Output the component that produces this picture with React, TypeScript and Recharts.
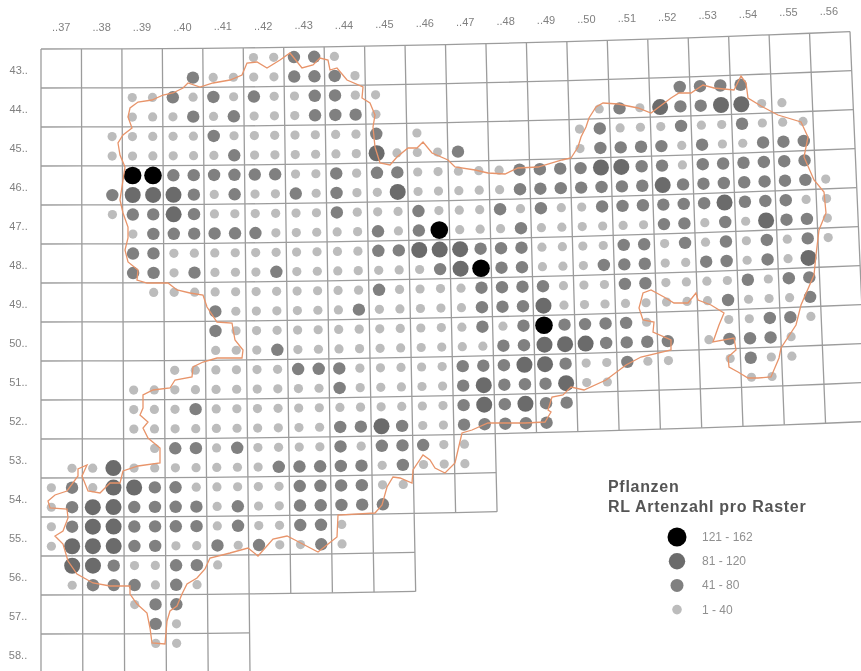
import React from 'react';
import { ScatterChart, Scatter, XAxis, YAxis, Legend } from 'recharts';

const columns = [37, 38, 39, 40, 41, 42, 43, 44, 45, 46, 47, 48, 49, 50, 51, 52, 53, 54, 55, 56];
const gridRows = [43, 44, 45, 46, 47, 48, 49, 50, 51, 52, 53, 54, 55, 56, 57, 58];

// legend classes, index 0 is class 1 in the dot rows below
const classLabels = ['1 - 40', '41 - 80', '81 - 120', '121 - 162'];
const classColors = ['#bcbcbc', '#808080', '#6b6b6b', '#000000'];
const classRadius = [4.6, 6.2, 8, 8.8];

// class of every raster quarter, two half rows per map row, one pair per map column 37..56
const dotRows = [
  '00 00 00 00 00 11 22 10',
  '00 00 00 02 11 11 22 21',
  '00 00 11 21 21 21 12 21 10 00 00 00 00 00 00 02 22 20',
  '00 00 11 12 12 11 12 22 10 00 00 00 00 01 21 32 23 31 10',
  '00 01 11 11 21 11 11 11 20 10 00 00 00 12 11 12 11 21 11',
  '00 01 11 11 12 11 11 11 31 11 20 00 00 12 22 21 21 12 22',
  '00 00 44 22 22 22 11 21 22 11 11 12 22 23 32 21 22 22 22',
  '00 02 33 32 12 11 21 21 13 11 11 12 22 22 22 32 22 22 22 10',
  '00 01 22 32 11 11 11 21 11 21 11 21 21 12 22 22 23 22 21 10',
  '00 00 12 22 22 21 11 11 21 24 11 12 11 11 11 22 12 13 22 10',
  '00 00 22 11 11 11 11 11 22 33 32 22 11 11 22 12 12 12 12 10',
  '00 00 22 12 11 12 11 11 11 12 34 22 11 12 22 11 22 12 13',
  '00 00 01 11 11 11 11 11 21 11 12 22 21 11 22 11 11 21 22',
  '00 00 00 00 21 11 11 12 11 11 12 22 31 11 11 11 12 11 12',
  '00 00 00 00 21 11 11 11 11 11 12 12 42 22 21 00 01 12 21',
  '00 00 00 00 11 12 11 11 11 11 11 22 33 32 22 20 12 22 10',
  '00 00 00 11 11 11 22 21 11 11 22 23 32 11 21 10 01 21 10',
  '00 00 11 11 11 11 11 21 11 11 23 22 23 11 00 00 00 11',
  '00 00 11 12 11 11 11 11 11 11 23 23 22',
  '00 00 11 11 11 11 11 22 32 11 22 22 20',
  '00 00 01 22 12 11 11 21 22 21 10',
  '01 13 11 11 11 12 22 22 12 11 10',
  '12 13 32 21 11 11 22 22 11',
  '12 33 22 22 12 11 22 22 20',
  '12 33 22 22 12 11 22 10',
  '13 33 22 11 21 21 12 10',
  '03 32 11 22 10',
  '01 22 21 21',
  '00 00 12 20',
  '00 00 02 10',
  '00 00 01 10',
];

// how far each map column reaches down, in map rows
const columnDepth = [16, 16, 16, 16, 16, 16, 14, 14, 14, 14, 12, 12, 10, 10, 10, 10, 10, 10, 10, 10, 10];
// how far each map row line reaches east, in map columns
const rowReach = [20, 20, 20, 20, 20, 20, 20, 20, 20, 20, 20, 11, 11, 9, 9, 5];

// state border traced clockwise on the map plane
const borderEast = [125, 120, 118, 123, 132, 128, 130, 138, 152, 163, 173, 183, 188, 200, 213, 230, 242, 247, 257, 267, 280, 290, 302, 313, 320, 328, 330, 337, 347, 363, 362, 370, 375, 373, 375, 380, 390, 397, 408, 417, 423, 432, 448, 455, 475, 488, 505, 518, 538, 562, 571, 578, 581, 586, 589, 596, 603, 618, 638, 651, 671, 679, 691, 703, 714, 734, 741, 746, 748, 761, 778, 801, 808, 804, 814, 824, 826, 819, 816, 814, 801, 796, 781, 779, 771, 758, 748, 738, 729, 728, 736, 734, 713, 719, 724, 711, 698, 696, 688, 674, 664, 651, 643, 639, 643, 654, 653, 671, 671, 641, 626, 606, 584, 571, 563, 552, 548, 551, 545, 525, 505, 488, 472, 462, 458, 455, 445, 435, 430, 423, 413, 412, 400, 393, 387, 382, 375, 338, 337, 318, 295, 287, 273, 258, 248, 230, 210, 205, 197, 187, 182, 177, 170, 167, 165, 152, 150, 147, 137, 130, 130, 110, 93, 77, 68, 63, 55, 63, 68, 67, 50, 48, 55, 67, 78, 78, 87, 82, 88, 100, 110, 120, 123, 138, 160, 160, 148, 143, 148, 140, 143, 143, 153, 170, 175, 192, 193, 203, 217, 242, 243, 235, 232, 217, 207, 203, 190, 177, 168, 147, 137, 138, 128, 125, 128, 128, 123, 120, 125];
const borderSouth = [167, 155, 143, 135, 128, 117, 108, 102, 100, 95, 93, 88, 83, 87, 83, 80, 75, 63, 62, 68, 60, 53, 68, 65, 58, 60, 70, 68, 80, 87, 98, 103, 115, 127, 147, 163, 165, 157, 148, 148, 142, 153, 160, 167, 170, 173, 174, 168, 167, 160, 158, 147, 137, 127, 118, 107, 103, 104, 108, 113, 98, 93, 93, 85, 88, 90, 76, 83, 98, 106, 115, 122, 137, 157, 180, 192, 213, 230, 255, 275, 305, 325, 348, 358, 377, 378, 378, 372, 367, 357, 350, 338, 342, 325, 313, 305, 300, 293, 303, 303, 297, 290, 293, 308, 320, 322, 332, 340, 350, 357, 365, 380, 390, 387, 395, 397, 410, 412, 422, 423, 423, 423, 430, 433, 450, 463, 473, 468, 460, 455, 470, 483, 478, 477, 487, 505, 513, 515, 537, 552, 540, 536, 539, 556, 548, 553, 558, 569, 578, 584, 594, 606, 611, 621, 644, 643, 628, 613, 604, 594, 586, 586, 583, 574, 561, 544, 536, 531, 518, 509, 508, 501, 495, 491, 476, 469, 465, 476, 491, 493, 483, 483, 471, 466, 463, 448, 438, 428, 422, 415, 408, 395, 390, 388, 380, 377, 367, 362, 358, 358, 350, 340, 323, 322, 307, 295, 293, 290, 283, 283, 280, 270, 262, 250, 238, 227, 213, 200, 167];

// conic look of the sheet: rows bow upward and columns lean east away from the west edge
const project = (col: number, row: number) => {
  const u = 40.45 * col;
  const v = 39 * row;
  return { x: 41 + u + 5.34e-5 * u * v, y: 49 + v - 2.67e-5 * u * u };
};

const classPoints = classLabels.map((_, k) => {
  const points: { x: number; y: number }[] = [];
  dotRows.forEach((line, halfRow) => {
    line.split(' ').forEach((pair, col) => {
      [0, 1].forEach((side) => {
        if (Number(pair[side]) === k + 1) {
          points.push(project(col + 0.25 + side * 0.5, (halfRow + 0.5) / 2));
        }
      });
    });
  });
  return points;
});

const steps = (n: number) => Array.from({ length: n + 1 }, (_, i) => i);
const columnLines = columnDepth.map((depth, c) => steps(depth).map((r) => project(c, r)));
const rowLines = rowReach.map((reach, r) => steps(reach).map((c) => project(c, r)));
const borderPoints = borderEast.map((x, i) => ({ x, y: borderSouth[i] }));

const columnTicks = columns.map((n, i) => ({ ...project(i + 0.5, -0.56), text: '..' + n }));
const rowTicks = gridRows.map((n, i) => ({ ...project(-0.55, i + 0.53), text: n + '..' }));

const noDot = () => <g />;
const gridLine = { stroke: '#9c9c9c', strokeWidth: 1.3 };

const tickShape = (props: any) => (
  <text
    x={props.cx}
    y={props.cy}
    textAnchor="middle"
    dominantBaseline="central"
    fontSize={11}
    fontFamily="'Liberation Sans', Arial, sans-serif"
    fill="#808080"
  >
    {props.payload.text}
  </text>
);

const dotShape = (k: number) => (props: any) => (
  <circle cx={props.cx} cy={props.cy} r={classRadius[k]} fill={classColors[k]} />
);

const titleStyle = { fontSize: 16, fontWeight: 700, letterSpacing: 0.7, lineHeight: '20px', color: '#555', whiteSpace: 'nowrap' } as const;

function MapLegend() {
  const order = [3, 2, 1, 0];
  return (
    <div style={{ fontFamily: "'Liberation Sans', Arial, sans-serif" }}>
      <div style={titleStyle}>Pflanzen</div>
      <div style={titleStyle}>RL Artenzahl pro Raster</div>
      <svg width={180} height={96} style={{ display: 'block', marginTop: 8 }}>
        {order.map((k, i) => (
          <g key={k}>
            <circle cx={69} cy={12 + i * 24.2} r={[9.5, 8.2, 6.5, 4.8][i]} fill={classColors[k]} />
            <text x={94} y={12 + i * 24.2} dominantBaseline="central" fontSize={12} fill="#909090">
              {classLabels[k]}
            </text>
          </g>
        ))}
      </svg>
    </div>
  );
}

export default function App() {
  return (
    <div style={{ position: 'absolute', left: 0, top: 0, background: '#fff', filter: 'blur(0.5px)' }}>
      <ScatterChart width={861} height={671} margin={{ top: 0, right: 0, bottom: 0, left: 0 }}>
        <XAxis type="number" dataKey="x" domain={[0, 861]} allowDataOverflow hide />
        <YAxis type="number" dataKey="y" domain={[0, 671]} reversed allowDataOverflow hide />
        {columnLines.map((pts, i) => (
          <Scatter key={'c' + i} data={pts} line={gridLine} shape={noDot} isAnimationActive={false} />
        ))}
        {rowLines.map((pts, i) => (
          <Scatter key={'r' + i} data={pts} line={gridLine} shape={noDot} isAnimationActive={false} />
        ))}
        {classPoints.map((pts, k) => (
          <Scatter key={'k' + k} name={classLabels[k]} data={pts} shape={dotShape(k)} isAnimationActive={false} />
        ))}
        <Scatter data={borderPoints} line={{ stroke: '#e8946a', strokeWidth: 1.3 }} shape={noDot} isAnimationActive={false} />
        <Scatter data={columnTicks} shape={tickShape} isAnimationActive={false} />
        <Scatter data={rowTicks} shape={tickShape} isAnimationActive={false} />
        <Legend
          content={<MapLegend />}
          layout="horizontal"
          align="center"
          verticalAlign="middle"
          wrapperStyle={{ left: 608, top: 477, width: 220, bottom: 'auto' }}
        />
      </ScatterChart>
    </div>
  );
}
